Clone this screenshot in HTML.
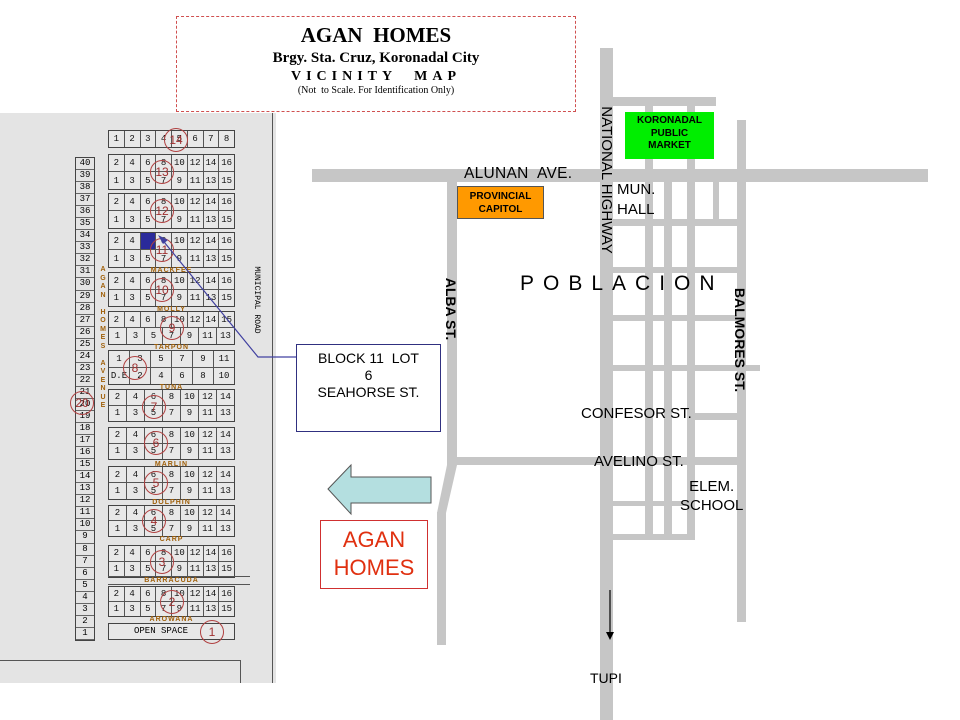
<!DOCTYPE html>
<html><head><meta charset="utf-8"><style>
body{margin:0;width:960px;height:720px;position:relative;overflow:hidden;background:#fff;font-family:"Liberation Sans",sans-serif}
.a{position:absolute}
.r{position:absolute;white-space:nowrap;transform:rotate(90deg);transform-origin:center;text-align:center;height:18px;line-height:18px}
.bk{position:absolute;left:108px;width:127px;border:1px solid #444;box-sizing:border-box;background:#e8e8e8}
.bk div{display:flex;height:50%}
.bk i{flex:1;font-style:normal;font-size:9px;color:#111;border-right:1px solid #555;border-bottom:1px solid #555;display:flex;align-items:center;justify-content:center;font-family:"Liberation Mono",monospace}
.bk i:last-child{border-right:none}
.bk div:last-child i{border-bottom:none}
.col{position:absolute;left:75px;top:157px;width:20px;border:1px solid #444;box-sizing:border-box}
.col i{display:block;height:12.05px;border-bottom:1px solid #666;box-sizing:border-box;font-size:9px;font-style:normal;text-align:center;line-height:11px;font-family:"Liberation Mono",monospace}
.st{position:absolute;left:108px;width:127px;text-align:center;font-size:7px;font-weight:bold;color:#a0600a;letter-spacing:1px;line-height:8px}
.c{position:absolute;border:1px solid #b04040;border-radius:50%;width:22px;height:22px;color:#a03030;font-size:12px;text-align:center;line-height:22px}
</style></head><body>
<div class="a" style="left:0;top:113px;width:276px;height:570px;background:#e4e4e4"></div>
<div class="a" style="left:272px;top:113px;width:1px;height:570px;background:#555"></div>
<div class="a" style="left:0;top:660px;width:240px;height:1px;background:#555"></div>
<div class="a" style="left:240px;top:660px;width:1px;height:23px;background:#555"></div>
<div class="a" style="left:176px;top:16px;width:400px;height:96px;border:1px dashed #d05050;box-sizing:border-box;background:#fff;font-family:'Liberation Serif',serif;text-align:center;font-weight:bold">
<div style="font-size:21px;margin-top:6px">AGAN&nbsp; HOMES</div>
<div style="font-size:15px;margin-top:2px">Brgy. Sta. Cruz, Koronadal City</div>
<div style="font-size:14px;letter-spacing:5px;margin-top:2px">VICINITY&nbsp; MAP</div>
<div style="font-size:10px;font-weight:normal;margin-top:0">(Not&nbsp; to Scale. For Identification Only)</div>
</div>
<div class="col"><i>40</i><i>39</i><i>38</i><i>37</i><i>36</i><i>35</i><i>34</i><i>33</i><i>32</i><i>31</i><i>30</i><i>29</i><i>28</i><i>27</i><i>26</i><i>25</i><i>24</i><i>23</i><i>22</i><i>21</i><i>20</i><i>19</i><i>18</i><i>17</i><i>16</i><i>15</i><i>14</i><i>13</i><i>12</i><i>11</i><i>10</i><i>9</i><i>8</i><i>7</i><i>6</i><i>5</i><i>4</i><i>3</i><i>2</i><i>1</i></div>
<div class="a" style="left:99px;top:266px;width:8px;font-size:7px;font-weight:bold;color:#a0600a;line-height:8.5px;text-align:center">A<br>G<br>A<br>N<br><br>H<br>O<br>M<br>E<br>S<br><br>A<br>V<br>E<br>N<br>U<br>E</div>
<div class="bk" style="top:130px;height:18px"><div style="height:100%"><i style="border-bottom:none">1</i><i style="border-bottom:none">2</i><i style="border-bottom:none">3</i><i style="border-bottom:none">4</i><i style="border-bottom:none">5</i><i style="border-bottom:none">6</i><i style="border-bottom:none">7</i><i style="border-bottom:none">8</i></div></div>
<div class="bk" style="top:154px;height:36px"><div><i>2</i><i>4</i><i>6</i><i>8</i><i>10</i><i>12</i><i>14</i><i>16</i></div><div><i>1</i><i>3</i><i>5</i><i>7</i><i>9</i><i>11</i><i>13</i><i>15</i></div></div>
<div class="bk" style="top:193px;height:36px"><div><i>2</i><i>4</i><i>6</i><i>8</i><i>10</i><i>12</i><i>14</i><i>16</i></div><div><i>1</i><i>3</i><i>5</i><i>7</i><i>9</i><i>11</i><i>13</i><i>15</i></div></div>
<div class="bk" style="top:232px;height:36px"><div><i>2</i><i>4</i><i style="background:#2a2a9a"></i><i>8</i><i>10</i><i>12</i><i>14</i><i>16</i></div><div><i>1</i><i>3</i><i>5</i><i>7</i><i>9</i><i>11</i><i>13</i><i>15</i></div></div>
<div class="st" style="top:267px">MACKFEE</div>
<div class="bk" style="top:272px;height:35px"><div><i>2</i><i>4</i><i>6</i><i>8</i><i>10</i><i>12</i><i>14</i><i>16</i></div><div><i>1</i><i>3</i><i>5</i><i>7</i><i>9</i><i>11</i><i>13</i><i>15</i></div></div>
<div class="st" style="top:306px">MOLLY</div>
<div class="bk" style="top:311px;height:34px"><div><i>2</i><i>4</i><i>6</i><i>8</i><i>10</i><i>12</i><i>14</i><i>15</i></div><div><i>1</i><i>3</i><i>5</i><i>7</i><i>9</i><i>11</i><i>13</i></div></div>
<div class="st" style="top:344px">TARPON</div>
<div class="bk" style="top:350px;height:35px"><div><i>1</i><i>3</i><i>5</i><i>7</i><i>9</i><i>11</i></div><div><i>D.E</i><i>2</i><i>4</i><i>6</i><i>8</i><i>10</i></div></div>
<div class="st" style="top:384px">TUNA</div>
<div class="bk" style="top:389px;height:33px"><div><i>2</i><i>4</i><i>6</i><i>8</i><i>10</i><i>12</i><i>14</i></div><div><i>1</i><i>3</i><i>5</i><i>7</i><i>9</i><i>11</i><i>13</i></div></div>
<div class="bk" style="top:427px;height:33px"><div><i>2</i><i>4</i><i>6</i><i>8</i><i>10</i><i>12</i><i>14</i></div><div><i>1</i><i>3</i><i>5</i><i>7</i><i>9</i><i>11</i><i>13</i></div></div>
<div class="st" style="top:461px">MARLIN</div>
<div class="bk" style="top:466px;height:34px"><div><i>2</i><i>4</i><i>6</i><i>8</i><i>10</i><i>12</i><i>14</i></div><div><i>1</i><i>3</i><i>5</i><i>7</i><i>9</i><i>11</i><i>13</i></div></div>
<div class="st" style="top:499px">DOLPHIN</div>
<div class="bk" style="top:505px;height:32px"><div><i>2</i><i>4</i><i>6</i><i>8</i><i>10</i><i>12</i><i>14</i></div><div><i>1</i><i>3</i><i>5</i><i>7</i><i>9</i><i>11</i><i>13</i></div></div>
<div class="st" style="top:536px">CARP</div>
<div class="bk" style="top:545px;height:33px"><div><i>2</i><i>4</i><i>6</i><i>8</i><i>10</i><i>12</i><i>14</i><i>16</i></div><div><i>1</i><i>3</i><i>5</i><i>7</i><i>9</i><i>11</i><i>13</i><i>15</i></div></div>
<div class="a" style="left:108px;top:576px;width:142px;height:1px;background:#555"></div>
<div class="a" style="left:108px;top:584px;width:142px;height:1px;background:#555"></div>
<div class="st" style="top:577px">BARRACUDA</div>
<div class="bk" style="top:586px;height:31px"><div><i>2</i><i>4</i><i>6</i><i>8</i><i>10</i><i>12</i><i>14</i><i>16</i></div><div><i>1</i><i>3</i><i>5</i><i>7</i><i>9</i><i>11</i><i>13</i><i>15</i></div></div>
<div class="st" style="top:616px">AROWANA</div>
<div class="bk" style="top:623px;height:17px;font-size:9px;line-height:15px;padding-left:25px;font-family:'Liberation Mono',monospace">OPEN SPACE</div>
<div class="c" style="left:164px;top:128px">14</div>
<div class="c" style="left:150px;top:160px">13</div>
<div class="c" style="left:150px;top:199px">12</div>
<div class="c" style="left:150px;top:238px">11</div>
<div class="c" style="left:150px;top:278px">10</div>
<div class="c" style="left:160px;top:316px">9</div>
<div class="c" style="left:123px;top:356px">8</div>
<div class="c" style="left:142px;top:395px">7</div>
<div class="c" style="left:144px;top:431px">6</div>
<div class="c" style="left:144px;top:471px">5</div>
<div class="c" style="left:142px;top:509px">4</div>
<div class="c" style="left:150px;top:550px">3</div>
<div class="c" style="left:160px;top:590px">2</div>
<div class="c" style="left:200px;top:620px">1</div>
<div class="c" style="left:70px;top:391px">20</div>
<div class="r" style="left:211px;top:291px;width:90px;font-size:8px;font-family:'Liberation Mono',monospace">MUNICIPAL ROAD</div>
<svg class="a" style="left:0;top:0" width="960" height="720">
<g fill="#c6c6c6">
<rect x="312" y="169" width="616" height="13"/>
<rect x="600" y="48" width="13" height="672"/>
<rect x="613" y="97" width="103" height="9"/>
<rect x="737" y="120" width="9" height="502"/>
<rect x="447" y="182" width="10" height="283"/>
<rect x="455" y="457" width="285" height="8"/>
<polygon points="447,465 457,465 446,513 437,513"/>
<rect x="437" y="512" width="9" height="133"/>
<rect x="645" y="106" width="8" height="432"/>
<rect x="664" y="182" width="8" height="356"/>
<rect x="687" y="106" width="8" height="432"/>
<rect x="713" y="182" width="6" height="40"/>
<rect x="613" y="219" width="127" height="7"/>
<rect x="613" y="267" width="127" height="6"/>
<rect x="613" y="315" width="127" height="6"/>
<rect x="613" y="365" width="147" height="6"/>
<rect x="693" y="413" width="47" height="7"/>
<rect x="613" y="501" width="80" height="5"/>
<rect x="613" y="534" width="82" height="6"/>
</g>
<polyline points="296,357 258,357 160,237" fill="none" stroke="#4040a0" stroke-width="1.2"/>
<polygon points="158,235 168,240 163,244" fill="#4040a0"/>
<polygon points="328,489 351,465 351,477 431,477 431,503 351,503 351,514" fill="#b4dfe0" stroke="#555" stroke-width="1"/>
<line x1="610" y1="590" x2="610" y2="634" stroke="#000" stroke-width="1.2"/>
<polygon points="606,632 614,632 610,640" fill="#000"/>
</svg>
<div class="a" style="left:296px;top:344px;width:145px;height:88px;border:1px solid #303080;box-sizing:border-box;background:#fff;text-align:center;font-size:14px;line-height:17px;padding-top:5px">BLOCK 11&nbsp; LOT<br>6<br>SEAHORSE ST.</div>
<div class="a" style="left:320px;top:520px;width:108px;height:69px;border:1px solid #d03030;box-sizing:border-box;background:#fff;text-align:center;color:#e03010;font-size:22px;line-height:28px;padding-top:5px">AGAN<br>HOMES</div>
<div class="a" style="left:457px;top:186px;width:87px;height:33px;background:#ff9900;border:1px solid #555;box-sizing:border-box;text-align:center;font-size:10px;font-weight:bold;line-height:13px;padding-top:3px">PROVINCIAL<br>CAPITOL</div>
<div class="a" style="left:625px;top:112px;width:89px;height:47px;background:#00ee00;text-align:center;font-size:10px;font-weight:bold;line-height:12.5px;padding-top:3px;box-sizing:border-box">KORONADAL<br>PUBLIC<br>MARKET</div>
<div class="a" style="left:464px;top:165px;font-size:15.5px;letter-spacing:0.3px">ALUNAN&nbsp; AVE.</div>
<div class="a" style="left:617px;top:180px;font-size:15px;line-height:20px">MUN.<br>HALL</div>
<div class="r" style="left:516px;top:171px;width:180px;font-size:15px">NATIONAL HIGHWAY</div>
<div class="a" style="left:520px;top:272px;font-size:21px;letter-spacing:9px">POBLACION</div>
<div class="r" style="left:406px;top:300px;width:90px;font-size:14px;font-weight:bold">ALBA ST.</div>
<div class="r" style="left:680px;top:331px;width:120px;font-size:14px;font-weight:bold">BALMORES ST.</div>
<div class="a" style="left:581px;top:405px;font-size:15px">CONFESOR ST.</div>
<div class="a" style="left:594px;top:453px;font-size:15px">AVELINO ST.</div>
<div class="a" style="left:680px;top:477px;font-size:15px;line-height:19px;text-align:center">ELEM.<br>SCHOOL</div>
<div class="a" style="left:590px;top:670px;font-size:14px">TUPI</div>
</body></html>
